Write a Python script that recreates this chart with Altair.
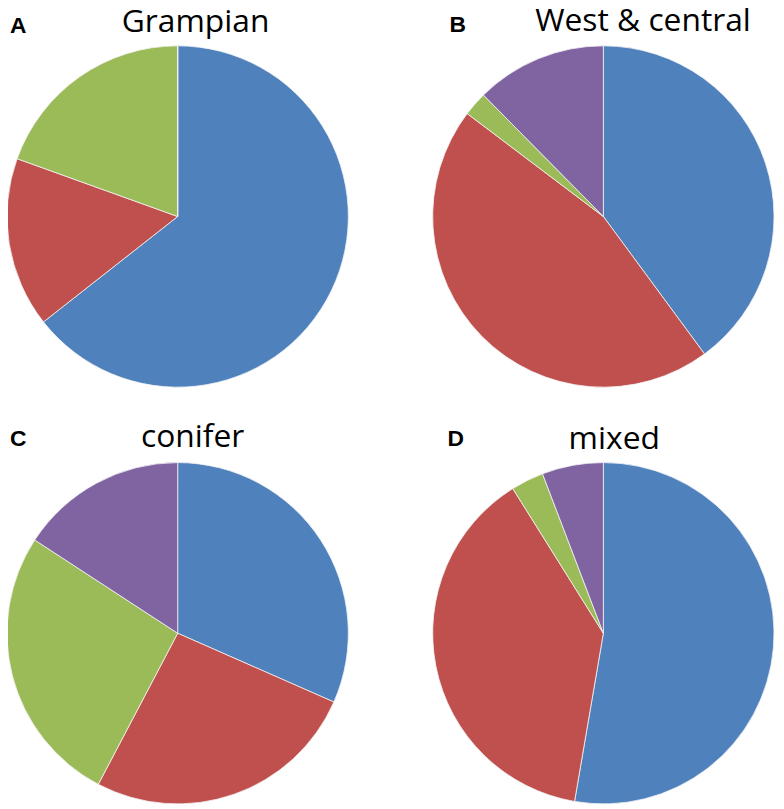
import altair as alt
import pandas as pd

# Data (percent of each pie)
groups = ["Group 1", "Group 2", "Group 3", "Group 4"]
colors = ["#4F81BD", "#C0504D", "#9BBB59", "#8064A2"]

panel_letters = ["A", "B", "C", "D"]
panel_titles = ["Grampian", "West & central", "conifer", "mixed"]

grampian = [64.4, 16.1, 19.5, 0.0]
west_central = [39.9, 45.4, 2.3, 12.4]
conifer = [31.6, 26.1, 26.5, 15.8]
mixed = [52.7, 38.4, 3.1, 5.8]

# layout (styles only)
SIZE = 344
letter_pos = [(3, -13), (17, -14), (3, -17), (15, -17)]
title_pos = [(190, -14), (212, -15), (187, -16), (183, -14)]


def panel(i, values):
    df = pd.DataFrame({"group": groups, "value": values, "order": list(range(len(groups)))})
    arc = alt.Chart(df).mark_arc(outerRadius=SIZE / 2, stroke="#f4f4f4", strokeWidth=0.8).encode(
        theta=alt.Theta("value:Q", stack=True),
        color=alt.Color("group:N", scale=alt.Scale(domain=groups, range=colors), legend=None),
        order=alt.Order("order:Q"),
    )
    lx, ly = letter_pos[i]
    letter = alt.Chart(pd.DataFrame({"t": [panel_letters[i]]})).mark_text(
        font="Liberation Sans", fontWeight="bold", fontSize=23, align="left",
        baseline="alphabetic", color="black",
    ).encode(text="t:N", x=alt.value(lx), y=alt.value(ly))
    tx, ty = title_pos[i]
    title = alt.Chart(pd.DataFrame({"t": [panel_titles[i]]})).mark_text(
        font="Open Sans", fontSize=32, align="center", baseline="alphabetic", color="black",
    ).encode(text="t:N", x=alt.value(tx), y=alt.value(ty))
    return alt.layer(arc, letter, title).properties(width=SIZE, height=SIZE)


row1 = alt.hconcat(panel(0, grampian), panel(1, west_central), spacing=81)
row2 = alt.hconcat(panel(2, conifer), panel(3, mixed), spacing=81)
chart = alt.vconcat(row1, row2, spacing=32).properties(
    padding={"top": -6, "left": -3, "right": 0, "bottom": 0}
).configure_view(stroke=None)

chart.save("out.html", embed_options={"renderer": "svg", "actions": False})
